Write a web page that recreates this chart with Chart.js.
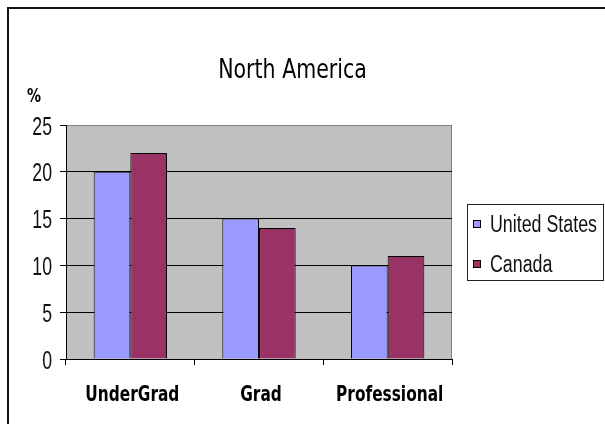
<!DOCTYPE html>
<html>
<head>
<meta charset="utf-8">
<script src="https://cdn.jsdelivr.net/npm/chart.js@4"></script>
<style>
  html, body { margin: 0; padding: 0; background: #fff; }
  #wrap { width: 605px; height: 424px; position: relative; }
</style>
</head>
<body>
<div id="wrap"><canvas id="chart" width="605" height="424"></canvas></div>
<script>
// datos del gráfico
const categories = ['UnderGrad', 'Grad', 'Professional'];
const usValues = [20, 15, 10];
const canadaValues = [22, 14, 11];
const seriesNames = ['United States', 'Canada'];
const yTicks = [0, 5, 10, 15, 20, 25];
const chartTitle = 'North America';
const yUnit = '%';

const SANS = "'Liberation Sans', Arial, sans-serif";
const DEJAVU = "'DejaVu Sans', Verdana, sans-serif";

// texto comprimido en horizontal (la imagen original está estrecha)
function drawNarrow(ctx, text, x, y, font, sx, align) {
    ctx.save();
    ctx.translate(x, y);
    ctx.scale(sx, 1);
    ctx.font = font;
    ctx.textAlign = align;
    ctx.textBaseline = 'alphabetic';
    ctx.fillText(text, 0, 0);
    ctx.restore();
}

// fondo gris del área de trazado + marco exterior
const backgroundPlugin = {
    id: 'plotBackground',
    beforeDraw(chart) {
        const { ctx, chartArea: a } = chart;
        ctx.save();
        ctx.fillStyle = '#fff';
        ctx.fillRect(0, 0, chart.width, chart.height);
        ctx.fillStyle = '#C0C0C0';
        ctx.fillRect(a.left, a.top, a.right - a.left, a.bottom - a.top);
        ctx.strokeStyle = '#808080';
        ctx.lineWidth = 1;
        ctx.strokeRect(a.left + 0.5, a.top + 0.5, a.right - a.left - 1, a.bottom - a.top);
        // marco del gráfico
        ctx.strokeStyle = '#111';
        ctx.lineWidth = 2;
        ctx.beginPath();
        ctx.moveTo(8, chart.height + 2);
        ctx.lineTo(8, 8);
        ctx.lineTo(chart.width + 2, 8);
        ctx.stroke();
        ctx.restore();
    }
};

// título, unidad, etiquetas de ejes y leyenda
const textPlugin = {
    id: 'extraText',
    afterDraw(chart) {
        const { ctx } = chart;
        const xs = chart.scales.x, ys = chart.scales.y;
        ctx.save();
        ctx.fillStyle = '#000';
        drawNarrow(ctx, chartTitle, 292.5, 78, '27px ' + DEJAVU, 0.76, 'center');
        drawNarrow(ctx, yUnit, 27, 102, 'bold 20px ' + DEJAVU, 0.7, 'left');

        // etiquetas del eje Y
        ctx.fillStyle = '#111';
        yTicks.forEach(v => {
            drawNarrow(ctx, String(v), 52, ys.getPixelForValue(v) + 9.5, '26px ' + SANS, 0.68, 'right');
        });

        // etiquetas del eje X
        ctx.fillStyle = '#000';
        categories.forEach((c, i) => {
            drawNarrow(ctx, c, xs.getPixelForValue(i) + 2, 401, 'bold 21.5px ' + DEJAVU, 0.715, 'center');
        });

        // leyenda
        ctx.strokeStyle = '#222';
        ctx.lineWidth = 1;
        ctx.strokeRect(467.5, 204.5, 136, 76);
        const rows = [228, 268];
        chart.data.datasets.forEach((ds, i) => {
            ctx.fillStyle = ds.backgroundColor;
            ctx.fillRect(473, rows[i] - 8, 8, 8);
            ctx.strokeStyle = '#000';
            ctx.strokeRect(473.5, rows[i] - 7.5, 7, 7);
            ctx.fillStyle = '#111';
            drawNarrow(ctx, ds.label, 490, rows[i] + 4, '23px ' + SANS, 0.775, 'left');
        });
        ctx.restore();
    }
};

const ctx = document.getElementById('chart').getContext('2d');
new Chart(ctx, {
    type: 'bar',
    data: {
        labels: categories,
        datasets: [{
            label: seriesNames[0],
            data: usValues,
            backgroundColor: '#9999FF',
            borderColor: '#000',
            borderWidth: 1
        }, {
            label: seriesNames[1],
            data: canadaValues,
            backgroundColor: '#993366',
            borderColor: '#000',
            borderWidth: 1
        }]
    },
    options: {
        responsive: false,
        animation: false,
        categoryPercentage: 0.57,
        barPercentage: 1,
        layout: { padding: { left: 0, top: 125, right: 153, bottom: 0 } },
        plugins: {
            legend: { display: false },
            title: { display: false },
            tooltip: { enabled: false }
        },
        scales: {
            x: {
                afterFit: (s) => { s.height = 65; },
                grid: {
                    offset: true,
                    drawOnChartArea: false,
                    drawTicks: true,
                    tickLength: 6,
                    color: '#000'
                },
                border: { color: '#000', width: 1 },
                ticks: { display: false }
            },
            y: {
                min: yTicks[0],
                max: yTicks[yTicks.length - 1],
                afterFit: (s) => { s.width = 66; },
                afterBuildTicks: (s) => { s.ticks = yTicks.map(v => ({ value: v })); },
                grid: {
                    color: (c) => c.tick && c.tick.value === 25 ? '#808080' : '#000',
                    tickColor: '#000',
                    tickLength: 6,
                    lineWidth: 1
                },
                border: { color: '#000', width: 1 },
                ticks: { display: false }
            }
        }
    },
    plugins: [backgroundPlugin, textPlugin]
});
</script>
</body>
</html>
